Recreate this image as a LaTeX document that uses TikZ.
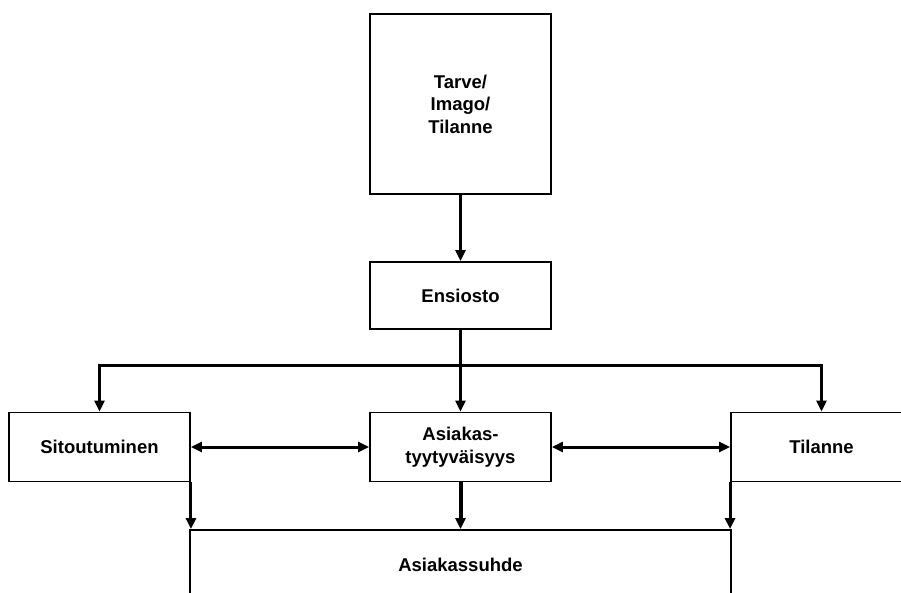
\documentclass[tikz,border=0pt]{standalone}
\usepackage{fontspec}
\setmainfont{Liberation Sans}
\usetikzlibrary{arrows.meta,positioning,calc}

\begin{document}
\begin{tikzpicture}[
    x=1pt, y=-1pt,
    box/.style={draw, line width=1.9pt, rectangle, align=center, inner sep=0pt,
        minimum width=181pt, minimum height=69pt,
        font=\bfseries\fontsize{18.5}{22.5}\selectfont},
    arr/.style={-{Triangle[length=11pt, width=10pt]}, line width=3pt},
    darr/.style={{Triangle[length=11pt, width=10pt]}-{Triangle[length=11pt, width=10pt]}, line width=3pt},
]
    \useasboundingbox (0,0) rectangle (901,593);
    \clip (0,0) rectangle (901,593);

    % boxes
    \node[box, minimum height=180pt] (need) at (460.5,104) {Tarve/\\Imago/\\Tilanne};
    \node[box, minimum height=67pt] (ensiosto) at (460.5,295.5) {Ensiosto};
    \node[box] (sitout) at (99.5,447) {Sitoutuminen};
    \node[box] (tyyt) at (460.5,447) {Asiakas-\\tyytyväisyys};
    \node[box] (tilanne) at (821.5,447) {Tilanne};
    \node[box, minimum width=541pt, minimum height=70pt] (suhde) at (460.5,565) {Asiakassuhde};

    % connectors
    \draw[arr] (need.south) -- (ensiosto.north);
    \draw[arr] (ensiosto.south) -- (tyyt.north);
    \coordinate (split) at ($(ensiosto.south)+(0,36)$);
    \draw[arr] (split) -| (sitout.north);
    \draw[arr] (split) -| (tilanne.north);
    \draw[darr] (sitout.east) -- (tyyt.west);
    \draw[darr] (tyyt.east) -- (tilanne.west);

    % into Asiakassuhde
    \draw[arr] (sitout.south east) -- (sitout.south east |- suhde.north);
    \draw[arr, line width=4pt] (tyyt.south) -- (suhde.north);
    \draw[arr] (tilanne.south west) -- (tilanne.south west |- suhde.north);
\end{tikzpicture}
\end{document}
